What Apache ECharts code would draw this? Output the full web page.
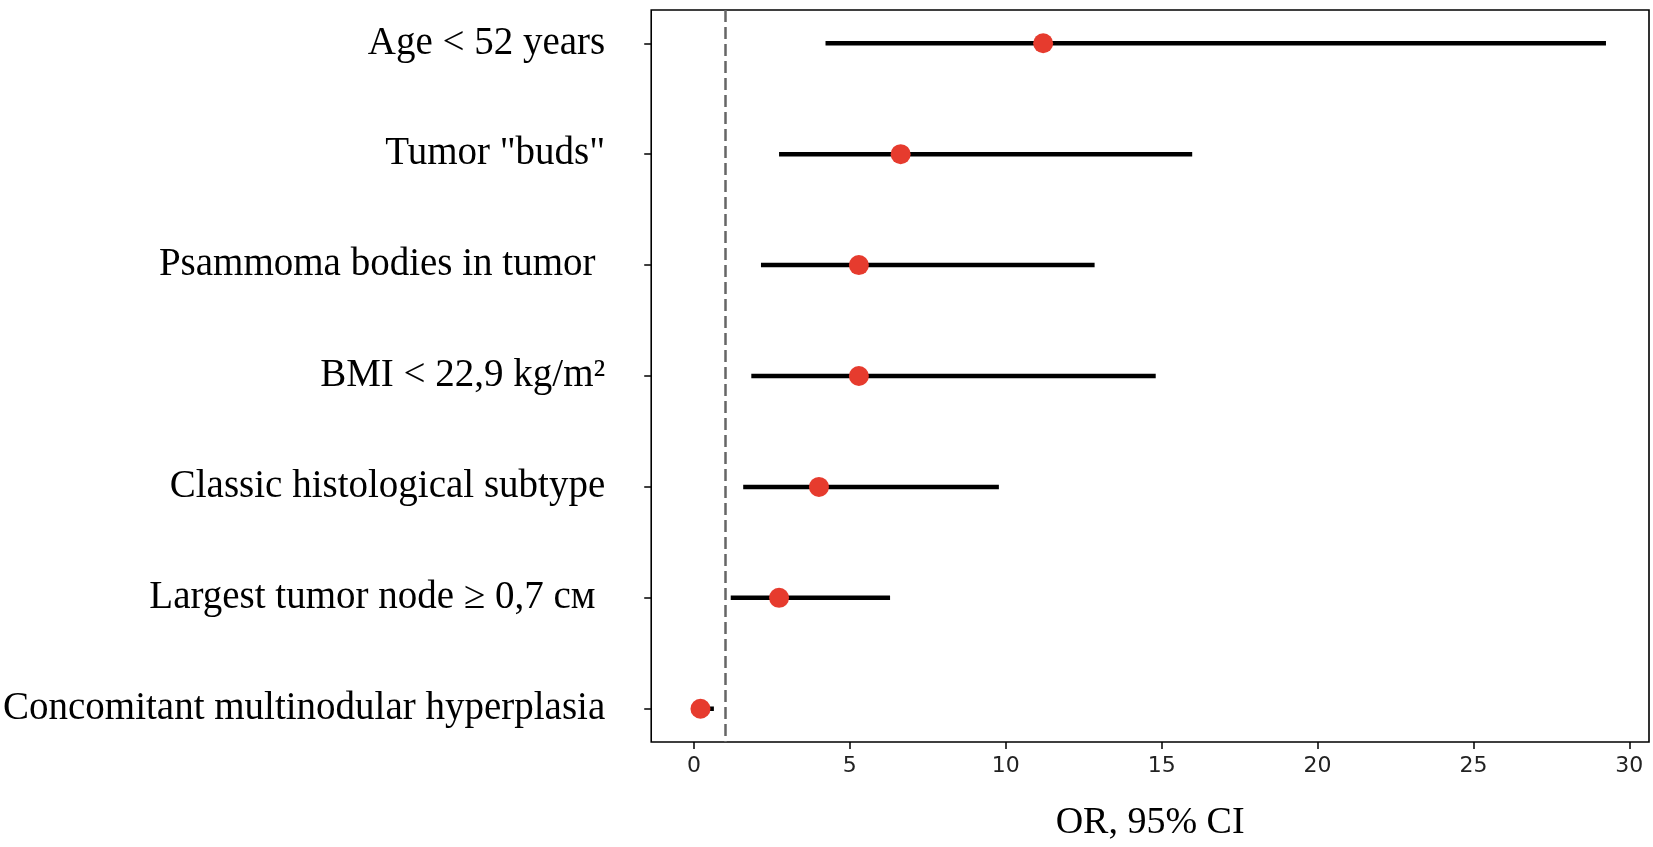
<!DOCTYPE html>
<html>
<head>
<meta charset="utf-8">
<script src="https://cdn.jsdelivr.net/npm/echarts@6/dist/echarts.min.js"></script>
<style>
html,body{margin:0;padding:0;background:#fff;}
#chart{width:1653px;height:847px;}
</style>
</head>
<body>
<div id="chart"></div>
<script>
const categories = ['Age < 52 years', 'Tumor "buds"', 'Psammoma bodies in tumor ', 'BMI < 22,9 kg/m²', 'Classic histological subtype', 'Largest tumor node ≥ 0,7 см ', 'Concomitant multinodular hyperplasia'];
const orValues = [11.2, 6.63, 5.29, 5.29, 4.01, 2.73, 0.21];
const ciLower  = [4.22, 2.73, 2.15, 1.84, 1.58, 1.18, 0.08];
const ciUpper  = [29.25, 15.98, 12.85, 14.81, 9.78, 6.29, 0.64];
const xTicks = [0, 5, 10, 15, 20, 25, 30];
const referenceLine = 1;
const xLabel = 'OR, 95% CI';

const yIdx = categories.map((c, i) => i);
const ciData = categories.map((c, i) => [ciLower[i], ciUpper[i], i]);
const pointData = categories.map((c, i) => [orValues[i], i]);

const chart = echarts.init(document.getElementById('chart'));
chart.setOption({
  animation: false,
  backgroundColor: '#fff',
  grid: {
    left: 651, right: 4, top: 10, bottom: 94,
    show: true, borderColor: '#000', borderWidth: 1.6, backgroundColor: 'transparent'
  },
  xAxis: {
    type: 'value', min: -1.37, max: 30.63, splitNumber: 6,
    name: xLabel, nameLocation: 'middle', nameGap: 62,
    nameTextStyle: { fontFamily: 'Liberation Serif', fontSize: 38, color: '#000' },
    axisLine: { show: false, onZero: false },
    axisTick: { show: true, customValues: xTicks, length: 7, inside: false, lineStyle: { color: '#000', width: 1.5 } },
    axisLabel: { customValues: xTicks, margin: 13, fontFamily: 'DejaVu Sans', fontSize: 22, color: '#222' },
    splitLine: { show: false }
  },
  yAxis: {
    type: 'value', inverse: true, min: -0.3, max: 6.3,
    axisLine: { show: false, onZero: false },
    axisTick: { show: true, customValues: yIdx, length: 7, inside: false, lineStyle: { color: '#000', width: 1.5 } },
    axisLabel: {
      customValues: yIdx, margin: 46,
      fontFamily: 'Liberation Serif', fontSize: 39, color: '#000',
      formatter: v => categories[Math.round(v)] || ''
    },
    splitLine: { show: false }
  },
  series: [
    {
      type: 'custom',
      data: ciData,
      encode: { x: [0, 1], y: 2 },
      z: 2,
      renderItem: function (params, api) {
        const p1 = api.coord([api.value(0), api.value(2)]);
        const p2 = api.coord([api.value(1), api.value(2)]);
        return {
          type: 'line',
          shape: { x1: p1[0], y1: p1[1], x2: p2[0], y2: p2[1] },
          style: { stroke: '#000', lineWidth: 4.5 }
        };
      }
    },
    {
      type: 'scatter',
      data: pointData,
      symbol: 'circle',
      symbolSize: 20,
      z: 3,
      itemStyle: { color: '#e63b2e', opacity: 1 },
      markLine: {
        silent: true,
        symbol: 'none',
        label: { show: false },
        lineStyle: { color: '#666', width: 2.5, type: [12, 5] },
        data: [{ xAxis: referenceLine }]
      }
    }
  ]
});
</script>
</body>
</html>
